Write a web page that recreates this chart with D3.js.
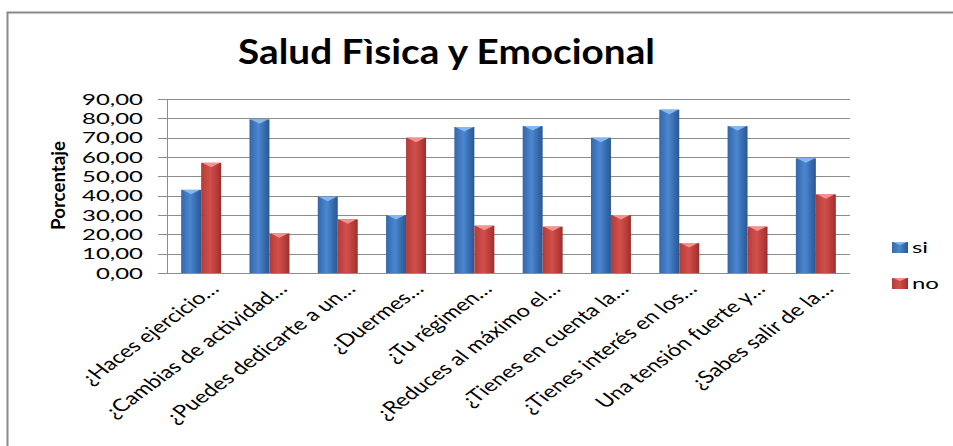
<!DOCTYPE html>
<html>
<head>
<meta charset="utf-8">
<script src="https://cdn.jsdelivr.net/npm/d3@7"></script>
<style>
  html, body { margin: 0; padding: 0; background: #fff; overflow: hidden; }
  svg { display: block; }
  text { font-family: Lato, "Open Sans", sans-serif; fill: #000; }
</style>
</head>
<body>
<svg id="chart" width="953" height="446"></svg>
<script>
// Survey questions (truncated as displayed on the axis)
const categories = [
  "¿Haces ejercicio…",
  "¿Cambias de actividad…",
  "¿Puedes dedicarte a un…",
  "¿Duermes…",
  "¿Tu régimen…",
  "¿Reduces al máximo el…",
  "¿Tienes en cuenta la…",
  "¿Tienes interés en los…",
  "Una tensión fuerte y…",
  "¿Sabes salir de la…"
];
const seriesNames = ["si", "no"];
const siValues = [43, 79.5, 39.5, 30, 75.5, 76, 70, 84.5, 76, 59.3];
const noValues = [57, 20.5, 27.8, 70, 24.5, 24, 30, 15.5, 24, 40.7];
const yTicks = [0, 10, 20, 30, 40, 50, 60, 70, 80, 90];
const titleText = "Salud Fìsica y Emocional";
const yAxisTitle = "Porcentaje";

const svg = d3.select("#chart");
const stretch = 1.35; // horizontal text aspect

const plot = { left: 167, right: 850, top: 99, bottom: 273 };

const fmt = v => v.toFixed(2).replace(".", ",");

// Gradients for the bevelled bars
const defs = svg.append("defs");
const palette = {
  si: { dark: "#2b5893", mid: "#4b87d1", edge: "#3467a8", cap: "#86b8f0" },
  no: { dark: "#9c2d2a", mid: "#d24f4b", edge: "#b43c39", cap: "#f39390" }
};
seriesNames.forEach(s => {
  const g = defs.append("linearGradient")
    .attr("id", "grad-" + s).attr("x1", "0").attr("x2", "1").attr("y1", "0").attr("y2", "0");
  g.append("stop").attr("offset", "0%").attr("stop-color", palette[s].edge);
  g.append("stop").attr("offset", "45%").attr("stop-color", palette[s].mid);
  g.append("stop").attr("offset", "80%").attr("stop-color", palette[s].edge);
  g.append("stop").attr("offset", "100%").attr("stop-color", palette[s].dark);
});

// Outer frame
svg.append("rect")
  .attr("x", 7.5).attr("y", 12.5).attr("width", 1000).attr("height", 500)
  .attr("fill", "none").attr("stroke", "#898989").attr("stroke-width", 2);

// Scales
const y = d3.scaleLinear().domain([0, 90]).range([plot.bottom, plot.top]);
const x0 = d3.scaleBand().domain(categories)
  .range([plot.left, plot.right]).paddingInner(0.415).paddingOuter(0.2075);
const x1 = d3.scaleBand().domain(seriesNames).range([0, x0.bandwidth()]);

// Gridlines
svg.append("g").selectAll("line").data(yTicks).join("line")
  .attr("x1", plot.left - 9).attr("x2", plot.right)
  .attr("y1", d => Math.round(y(d)) + 0.5).attr("y2", d => Math.round(y(d)) + 0.5)
  .attr("stroke", "#8c8c8c").attr("stroke-width", 1);

// Value axis line
svg.append("line")
  .attr("x1", plot.left + 0.5).attr("x2", plot.left + 0.5)
  .attr("y1", y(90)).attr("y2", y(0))
  .attr("stroke", "#8c8c8c");

// Y tick labels
const tickLabels = svg.append("g").selectAll("text").data(yTicks).join("text")
  .attr("text-anchor", "end")
  .attr("font-size", 16)
  .attr("dy", "0.36em")
  .text(d => fmt(d));
const tw = tickLabels.filter(d => d === 90).node().getComputedTextLength();
const tickScale = 61 / tw;
tickLabels.attr("transform", d => `translate(143,${y(d)}) scale(${tickScale},1)`);

// Bars
const rows = categories.map((c, i) => ({ cat: c, values: [
  { key: "si", value: siValues[i] }, { key: "no", value: noValues[i] }
]}));

const groups = svg.append("g").selectAll("g").data(rows).join("g")
  .attr("transform", d => `translate(${x0(d.cat)},0)`);

groups.selectAll("rect").data(d => d.values).join("rect")
  .attr("x", d => x1(d.key))
  .attr("y", d => y(d.value))
  .attr("width", x1.bandwidth())
  .attr("height", d => y(0) - y(d.value))
  .attr("fill", d => `url(#grad-${d.key})`);

// Bevel cap on top of each bar
groups.selectAll("path.cap").data(d => d.values).join("path")
  .attr("class", "cap")
  .attr("d", d => {
    const bx = x1(d.key), bw = x1.bandwidth(), by = y(d.value);
    return `M${bx + 1},${by} L${bx + bw - 1},${by} L${bx + bw / 2},${by + 4.5} Z`;
  })
  .attr("fill", d => palette[d.key].cap);

// Category axis line
svg.append("line")
  .attr("x1", plot.left).attr("x2", plot.right)
  .attr("y1", y(0) + 0.5).attr("y2", y(0) + 0.5)
  .attr("stroke", "#8c8c8c");

// Category labels, rotated
svg.append("g").selectAll("text").data(categories).join("text")
  .attr("text-anchor", "end")
  .attr("font-size", 17.5)
  .attr("transform", d => `translate(${x0(d) + x0.bandwidth() / 2 + 19},290) scale(${stretch},1) rotate(-45)`)
  .text(d => d);

// Title
const title = svg.append("text")
  .attr("text-anchor", "middle")
  .attr("font-size", 35)
  .attr("font-weight", "bold")
  .text(titleText);
const titleW = title.node().getComputedTextLength();
title.attr("transform", `translate(446.5,64) scale(${417 / titleW},1)`);

// Y axis title
svg.append("text")
  .attr("text-anchor", "middle")
  .attr("font-size", 16)
  .attr("font-weight", "bold")
  .attr("textLength", 89)
  .attr("lengthAdjust", "spacingAndGlyphs")
  .attr("transform", `translate(65,185.5) scale(1.2,1) rotate(-90)`)
  .text(yAxisTitle);

// Legend
const legend = svg.append("g").selectAll("g").data(seriesNames).join("g")
  .attr("transform", (d, i) => `translate(892,${242 + i * 36})`);
legend.append("rect")
  .attr("width", 16).attr("height", 11)
  .attr("fill", d => `url(#grad-${d})`);
legend.append("path")
  .attr("d", "M1,0 L15,0 L8,3 Z")
  .attr("fill", d => palette[d].cap);
legend.append("text")
  .attr("font-size", 16)
  .attr("transform", `translate(20,11) scale(${tickScale},1)`)
  .text(d => d);
</script>
</body>
</html>
